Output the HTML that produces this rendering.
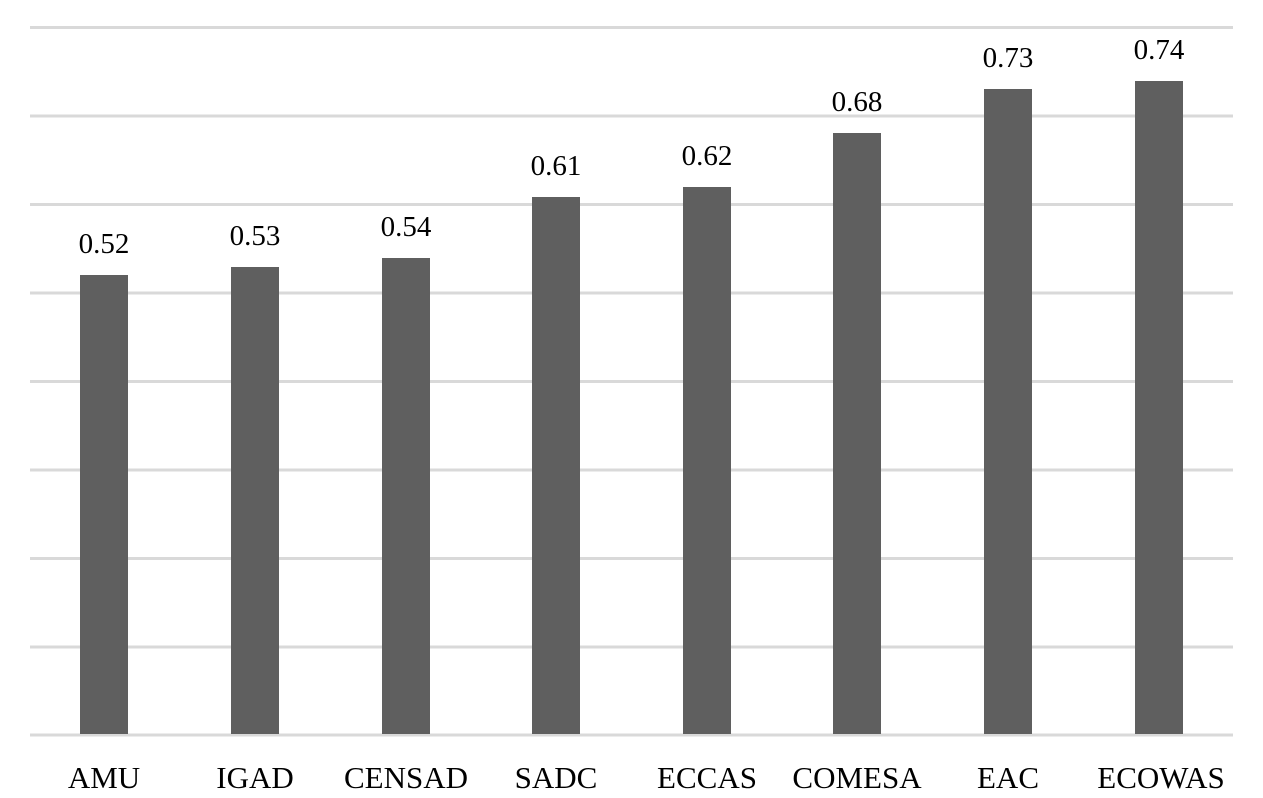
<!DOCTYPE html>
<html><head><meta charset="utf-8"><style>
html,body{margin:0;padding:0;background:#fff;width:1263px;height:798px;overflow:hidden}
</style></head><body>
<svg width="1263" height="798" xmlns="http://www.w3.org/2000/svg" font-family="'Liberation Serif',serif" fill="#000">
<g stroke="#d9d9d9" stroke-width="3">
<line x1="30" x2="1233" y1="27.5" y2="27.5"/>
<line x1="30" x2="1233" y1="116" y2="116"/>
<line x1="30" x2="1233" y1="204.5" y2="204.5"/>
<line x1="30" x2="1233" y1="293" y2="293"/>
<line x1="30" x2="1233" y1="381.5" y2="381.5"/>
<line x1="30" x2="1233" y1="470" y2="470"/>
<line x1="30" x2="1233" y1="558.5" y2="558.5"/>
<line x1="30" x2="1233" y1="647" y2="647"/>
<line x1="30" x2="1233" y1="735" y2="735"/>
</g>
<g fill="#5f5f5f">
<rect x="80" y="275" width="48" height="459"/>
<rect x="231" y="267" width="48" height="467"/>
<rect x="382" y="258" width="48" height="476"/>
<rect x="532" y="197" width="48" height="537"/>
<rect x="683" y="187" width="48" height="547"/>
<rect x="833" y="133" width="48" height="601"/>
<rect x="984" y="89" width="48" height="645"/>
<rect x="1135" y="81" width="48" height="653"/>
</g>
<g font-size="29" text-anchor="middle">
<text x="104" y="253">0.52</text>
<text x="255" y="245">0.53</text>
<text x="406" y="236">0.54</text>
<text x="556" y="175">0.61</text>
<text x="707" y="165">0.62</text>
<text x="857" y="111">0.68</text>
<text x="1008" y="67">0.73</text>
<text x="1159" y="59">0.74</text>
</g>
<g font-size="31" text-anchor="middle">
<text x="104" y="788">AMU</text>
<text x="255" y="788">IGAD</text>
<text x="406" y="788">CENSAD</text>
<text x="556" y="788">SADC</text>
<text x="707" y="788">ECCAS</text>
<text x="857" y="788">COMESA</text>
<text x="1008" y="788">EAC</text>
<text x="1161" y="788">ECOWAS</text>
</g>
</svg>
</body></html>
